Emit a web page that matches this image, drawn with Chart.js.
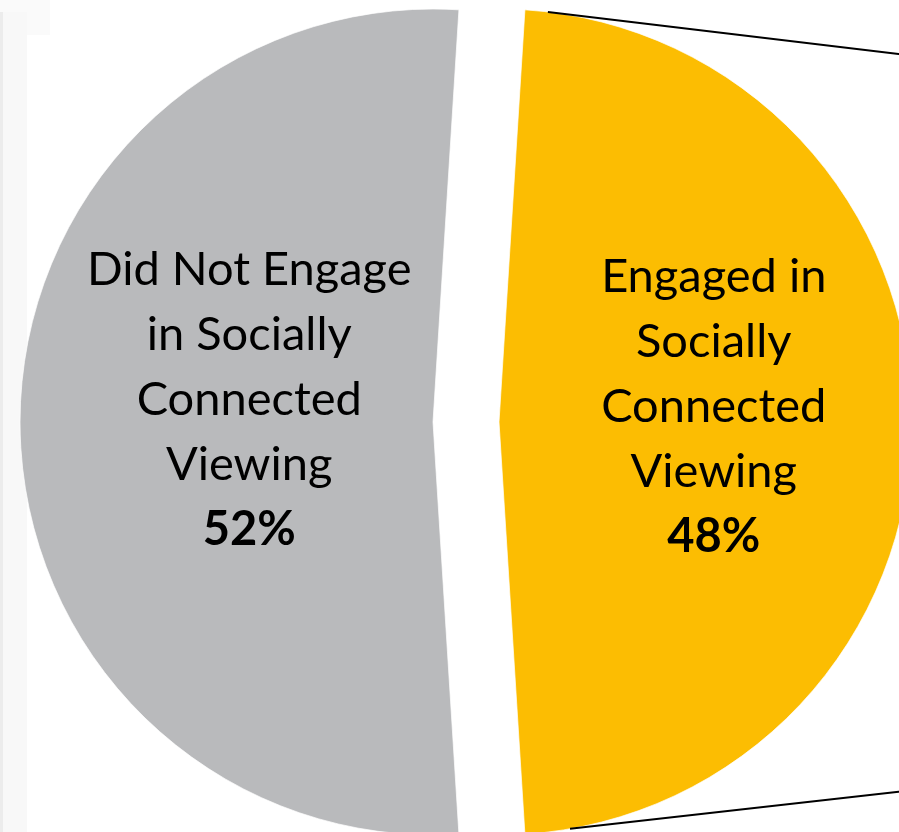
<!DOCTYPE html>
<html>
<head>
<meta charset="utf-8">
<script src="https://cdn.jsdelivr.net/npm/chart.js@4"></script>
<style>
  html, body { margin: 0; padding: 0; background: #fff; overflow: hidden; }
  #wrap { position: relative; width: 899px; height: 832px; overflow: hidden; }
  .corner { position: absolute; left: 0; top: 0; width: 50px; height: 35px; background: #fafafa; }
  .strip { position: absolute; left: 0; top: 12px; width: 27px; height: 820px; background: #f8f8f8; border-left: 3px solid #ececec; box-sizing: border-box; }
  canvas { position: absolute; left: 0; top: 0; }
</style>
</head>
<body>
<div id="wrap">
  <div class="corner"></div>
  <div class="strip"></div>
  <canvas id="pieChart" width="932" height="844"></canvas>
</div>
<script>
const categories = ['Engaged in Socially Connected Viewing', 'Did Not Engage in Socially Connected Viewing'];
const shares = [48, 52];
const labelLines = [
  ['Engaged in', 'Socially', 'Connected', 'Viewing'],
  ['Did Not Engage', 'in Socially', 'Connected', 'Viewing']
];
const percentLabels = ['48%', '52%'];
const sliceColors = ['#fcbd02', '#b9babc'];

const explodeDist = 33;
// where each label block sits: fraction of radius along the slice middle, first baseline shift
const labelPlace = [{ r: 0.52, dy: -130 }, { r: 0.445, dy: -137 }];
const labelFont = '47px Lato';
const labelFontBold = 'bold 47px Lato';
const lineHeight = 65;

// pulls each slice out along its middle angle (like an exploded Excel pie)
const explodePlugin = {
  id: 'explode',
  afterDatasetUpdate(chart, args) {
    const meta = chart.getDatasetMeta(args.index);
    meta.data.forEach(arc => {
      const mid = (arc.startAngle + arc.endAngle) / 2;
      arc.x += Math.cos(mid) * explodeDist;
      arc.y += Math.sin(mid) * explodeDist;
    });
  }
};

// labels inside slices + the two connector lines leaving the yellow slice
const labelPlugin = {
  id: 'sliceLabels',
  afterDatasetsDraw(chart) {
    const ctx = chart.ctx;
    const arcs = chart.getDatasetMeta(0).data;

    ctx.save();
    ctx.strokeStyle = '#000';
    ctx.lineWidth = 2;
    const y0 = arcs[0];
    const conn = [{ a: -83.2, slope: 0.12 }, { a: 80.1, slope: -0.113 }];
    conn.forEach(c => {
      const rad = c.a * Math.PI / 180;
      const sx = y0.x + Math.cos(rad) * y0.outerRadius;
      const sy = y0.y + Math.sin(rad) * y0.outerRadius;
      const ex = chart.width;
      ctx.beginPath();
      ctx.moveTo(sx, sy);
      ctx.lineTo(ex, sy + (ex - sx) * c.slope);
      ctx.stroke();
    });

    ctx.fillStyle = '#000';
    ctx.textAlign = 'center';
    ctx.textBaseline = 'alphabetic';
    arcs.forEach((arc, i) => {
      const mid = (arc.startAngle + arc.endAngle) / 2;
      const cx = arc.x + Math.cos(mid) * arc.outerRadius * labelPlace[i].r;
      let y = arc.y + labelPlace[i].dy;
      ctx.font = labelFont;
      labelLines[i].forEach(line => {
        ctx.fillText(line, cx, y);
        y += lineHeight;
      });
      ctx.font = labelFontBold;
      ctx.fillText(percentLabels[i], cx, y);
    });
    ctx.restore();
  }
};

function createPieChart() {
  const ctx = document.getElementById('pieChart').getContext('2d');

  const data = {
    labels: categories,
    datasets: [{
      data: shares,
      backgroundColor: sliceColors,
      borderColor: 'rgba(255,255,255,0.7)',
      borderWidth: 1
    }]
  };

  const config = {
    type: 'pie',
    data: data,
    options: {
      responsive: false,
      animation: false,
      events: [],
      rotation: 3.6,
      radius: 413,
      layout: { padding: 0 },
      plugins: {
        legend: { display: false },
        tooltip: { enabled: false }
      }
    },
    plugins: [explodePlugin, labelPlugin]
  };

  new Chart(ctx, config);
}

createPieChart();
</script>
</body>
</html>
